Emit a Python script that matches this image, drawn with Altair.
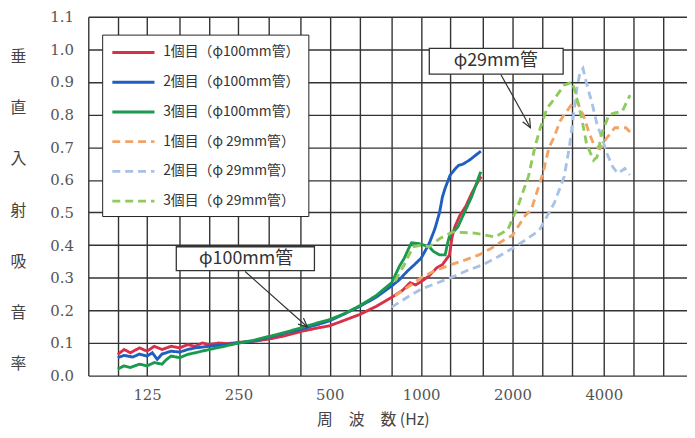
import altair as alt
import pandas as pd

# ---------------- data ----------------
grid_freqs = [80, 100, 125, 160, 200, 250, 315, 400, 500, 630, 800, 1000,
              1250, 1600, 2000, 2500, 3150, 4000, 5000, 6300]
label_freqs = [125, 250, 500, 1000, 2000, 4000]
y_ticks = [0.0, 0.1, 0.2, 0.3, 0.4, 0.5, 0.6, 0.7, 0.8, 0.9, 1.0, 1.1]

series_names = ["1個目（φ100mm管）", "2個目（φ100mm管）", "3個目（φ100mm管）",
                "1個目（φ 29mm管）", "2個目（φ 29mm管）", "3個目（φ 29mm管）"]
series_colors = ["#d9304a", "#1f5fc0", "#1a9a4e", "#f2a468", "#a8c2e6", "#8fca5c"]

red_f = [100, 105, 110, 118, 125, 132, 140, 150, 160, 170, 180, 190, 200, 215, 230, 250,
         280, 315, 355, 400, 450, 500, 560, 630, 710, 800, 870, 920, 960, 1000, 1060, 1125,
         1175, 1240, 1265, 1290, 1340, 1405, 1470, 1550, 1580]
red_v = [0.065, 0.08, 0.07, 0.085, 0.075, 0.09, 0.08, 0.09, 0.085, 0.095, 0.09, 0.1, 0.095, 0.1,
         0.098, 0.102, 0.105, 0.112, 0.122, 0.135, 0.145, 0.153, 0.17, 0.188, 0.212, 0.24, 0.262,
         0.285, 0.278, 0.288, 0.305, 0.33, 0.34, 0.37, 0.425, 0.455, 0.49, 0.52, 0.56, 0.60, 0.61]

blue_f = [100, 105, 112, 118, 125, 130, 135, 140, 150, 160, 170, 180, 200, 225, 250, 280, 315,
          355, 400, 450, 500, 560, 630, 710, 800, 850, 900, 950, 1000, 1063, 1110, 1150, 1175,
          1200, 1247, 1290, 1330, 1370, 1440, 1510, 1573]
blue_v = [0.055, 0.062, 0.057, 0.066, 0.06, 0.07, 0.05, 0.066, 0.075, 0.072, 0.08, 0.085, 0.09,
          0.095, 0.10, 0.106, 0.118, 0.13, 0.142, 0.155, 0.168, 0.19, 0.213, 0.24, 0.275, 0.295,
          0.32, 0.34, 0.36, 0.405, 0.45, 0.50, 0.547, 0.575, 0.615, 0.632, 0.645, 0.648, 0.66,
          0.675, 0.688]

green_f = [100, 105, 110, 118, 125, 132, 140, 145, 150, 160, 170, 180, 200, 225, 250, 280, 315,
           355, 400, 450, 500, 560, 630, 710, 800, 848, 880, 910, 930, 980, 1020, 1063, 1100,
           1150, 1200, 1225, 1247, 1290, 1320, 1405, 1470, 1550, 1573]
green_v = [0.02, 0.03, 0.025, 0.035, 0.03, 0.04, 0.035, 0.05, 0.06, 0.055, 0.065, 0.07, 0.08,
           0.09, 0.10, 0.108, 0.12, 0.132, 0.146, 0.16, 0.172, 0.19, 0.215, 0.245, 0.285, 0.335,
           0.36, 0.39, 0.407, 0.405, 0.40, 0.395, 0.38, 0.37, 0.37, 0.41, 0.435, 0.445, 0.455,
           0.51, 0.55, 0.61, 0.625]

orange_f = [820, 900, 1000, 1100, 1250, 1400, 1550, 1700, 1870, 2000, 2200, 2310, 2480, 2535,
            2640, 2740, 2870, 2960, 3160, 3264, 3450, 3560, 3700, 3880, 4100, 4350, 4730, 4900]
orange_v = [0.245, 0.27, 0.30, 0.32, 0.34, 0.355, 0.37, 0.39, 0.415, 0.43, 0.49, 0.51, 0.60, 0.63,
            0.70, 0.73, 0.78, 0.80, 0.835, 0.842, 0.79, 0.75, 0.71, 0.696, 0.73, 0.76, 0.76, 0.745]

lblue_f = [800, 900, 1000, 1100, 1250, 1400, 1600, 1800, 2000, 2200, 2450, 2750, 2960, 3080,
           3140, 3260, 3340, 3415, 3500, 3670, 3800, 3940, 4100, 4280, 4450, 4690, 4870]
lblue_v = [0.21, 0.24, 0.265, 0.28, 0.30, 0.32, 0.34, 0.365, 0.39, 0.415, 0.445, 0.53, 0.61, 0.70,
           0.76, 0.88, 0.93, 0.942, 0.90, 0.83, 0.77, 0.73, 0.68, 0.64, 0.62, 0.635, 0.615]

lgreen_f = [820, 880, 940, 1000, 1063, 1150, 1270, 1500, 1750, 1930, 2080, 2257, 2370, 2472,
            2600, 2730, 2960, 3143, 3220, 3380, 3510, 3700, 3800, 3930, 4160, 4350, 4600, 4880]
lgreen_v = [0.29, 0.34, 0.395, 0.40, 0.395, 0.42, 0.44, 0.437, 0.425, 0.447, 0.517, 0.61, 0.70,
            0.76, 0.82, 0.845, 0.89, 0.90, 0.87, 0.79, 0.71, 0.66, 0.67, 0.74, 0.80, 0.805, 0.81,
            0.86]

# annotations (data coordinates: frequency, absorption)
ann_text = ["φ100mm管", "φ29mm管"]
ann_box_f = [156, 1064]
ann_box_f2 = [445, 2938]
ann_box_v = [0.322, 0.924]
ann_box_v2 = [0.395, 1.003]
ann_text_f = [265, 1762]
ann_text_v = [0.358, 0.963]
arrow_f = [263, 1829]
arrow_v = [0.319, 0.924]
arrow_f2 = [422, 2292]
arrow_v2 = [0.149, 0.760]
arrow_angle = [131.6, 151.0]

# ---------------- tables ----------------
curves = [(red_f, red_v), (blue_f, blue_v), (green_f, green_v),
          (orange_f, orange_v), (lblue_f, lblue_v), (lgreen_f, lgreen_v)]
rows = []
for name, (fs, vs) in zip(series_names, curves):
    for f, v in zip(fs, vs):
        rows.append({"series": name, "freq": f, "val": v})
df = pd.DataFrame(rows)

ann = pd.DataFrame({
    "text": ann_text, "bf": ann_box_f, "bf2": ann_box_f2, "bv": ann_box_v, "bv2": ann_box_v2,
    "tf": ann_text_f, "tv": ann_text_v, "af": arrow_f, "av": arrow_v,
    "af2": arrow_f2, "av2": arrow_v2, "ang": arrow_angle,
})

# ---------------- scales / axes ----------------
GRID = "#333333"
xscale = alt.Scale(type="log", domain=[80, 7520], nice=False, zero=False)
yscale = alt.Scale(domain=[0, 1.1], nice=False, zero=False)

xaxis = alt.Axis(
    values=grid_freqs, format="d",
    labelExpr=f"indexof({label_freqs}, datum.value) >= 0 ? datum.label : ''",
    labelOverlap=False, labelFlush=False, domain=False, ticks=False,
    grid=True, gridColor=GRID, gridWidth=1.4, gridOpacity=1,
    labelFont="DejaVu Serif", labelFontSize=15, labelColor="#555", labelPadding=12,
    titleFont="Noto Sans CJK JP", titleFontSize=16, titleFontWeight="normal",
    titleColor="#444", titleX=287, titleY=44, titleAlign="center", titleBaseline="middle",
)
yaxis = alt.Axis(
    values=y_ticks, format=".1f", domain=False, ticks=False,
    grid=True, gridColor=GRID, gridWidth=1.4, gridOpacity=1,
    labelFont="DejaVu Serif", labelFontSize=15, labelColor="#555", labelPadding=15,
    titleAngle=0, titleX=-71, titleY=40, titleAlign="center", titleBaseline="middle",
    titleLineHeight=51.7, titleFont="Noto Sans CJK JP", titleFontSize=16,
    titleFontWeight="normal", titleColor="#444",
)
XTITLE = "周　波　数 (Hz)"
YTITLE = list("垂直入射吸音率")


def X(field):
    return alt.X(field, type="quantitative", scale=xscale, axis=xaxis, title=XTITLE)


def Y(field):
    return alt.Y(field, type="quantitative", scale=yscale, axis=yaxis, title=YTITLE)


legend = alt.Legend(
    orient="none", legendX=14, legendY=18, title=None,
    symbolType="M-2.5,0L2.5,0", symbolSize=289, symbolStrokeWidth=2.5,
    symbolOffset=13.5, labelOffset=20, rowPadding=13, padding=8,
    fillColor="white", strokeColor="#222",
    labelFont="Noto Sans CJK JP", labelFontSize=14, labelColor="#333", labelLimit=300,
)

dash_range = [[1, 0], [1, 0], [1, 0], [8, 5], [8, 5], [8, 5]]
width_range = [2.9, 2.9, 2.9, 2.2, 2.2, 2.2]

lines = alt.Chart(df).mark_line(clip=True).encode(
    x=X("freq"),
    y=Y("val"),
    color=alt.Color("series:N", scale=alt.Scale(domain=series_names, range=series_colors),
                    legend=legend),
    strokeDash=alt.StrokeDash("series:N", scale=alt.Scale(domain=series_names, range=dash_range),
                              legend=legend),
    strokeWidth=alt.StrokeWidth("series:N",
                                scale=alt.Scale(domain=series_names, range=width_range),
                                legend=None),
)

boxes = alt.Chart(ann).mark_rect(fill="white", stroke="#333", strokeWidth=1.3).encode(
    x=X("bf"), x2="bf2", y=Y("bv"), y2="bv2",
)
texts = alt.Chart(ann).mark_text(font="Noto Sans CJK JP", fontSize=18, color="#333",
                                 align="center", baseline="middle").encode(
    x=X("tf"), y=Y("tv"), text="text:N",
)
arrows = alt.Chart(ann).mark_rule(color="#333", strokeWidth=1.2).encode(
    x=X("af"), x2="af2", y=Y("av"), y2="av2",
)
heads = alt.Chart(ann).mark_point(shape="M-0.45,1L0,0L0.45,1", filled=False, size=324,
                                  strokeWidth=1.2, color="#333", opacity=1).encode(
    x=X("af2"), y=Y("av2"), angle=alt.Angle("ang:Q", scale=None),
)

chart = alt.layer(lines, arrows, heads, boxes, texts).properties(
    width=604, height=362,
    autosize=alt.AutoSizeParams(type="none"),
    padding={"left": 81, "top": 7, "right": 0, "bottom": 53},
    background="white",
).configure_view(stroke=None)

chart.save("out.html", embed_options={"renderer": "svg", "actions": False})
